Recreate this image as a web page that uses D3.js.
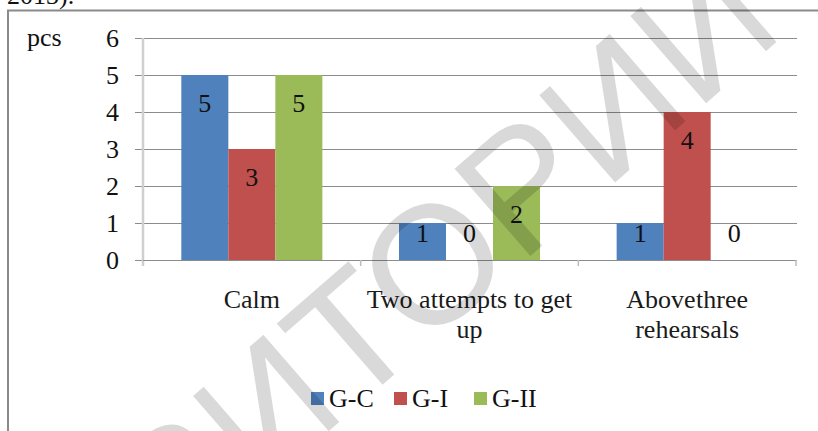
<!DOCTYPE html>
<html>
<head>
<meta charset="utf-8">
<script src="https://cdn.jsdelivr.net/npm/d3@7"></script>
<style>
  html, body { margin: 0; padding: 0; background: #fff; }
  svg { display: block; }
</style>
</head>
<body>
<svg id="chart" width="818" height="431"></svg>
<script>
// Categories (two-line labels split by "|")
const categories = ["Calm", "Two attempts to get|up", "Above three|rehearsals"];
const seriesNames = ["G-C", "G-I", "G-II"];
const seriesColors = ["#4F81BD", "#C0504D", "#9BBB59"];
// Values per series, in category order
const valuesGC  = [5, 1, 1];
const valuesGI  = [3, 0, 4];
const valuesGII = [5, 2, 0];
const yTicks = [0, 1, 2, 3, 4, 5, 6];
const yUnit = "pcs";
const headText = "2013).";
const watermark = "РЕПОЗИТОРИЙ";

const seriesValues = [valuesGC, valuesGI, valuesGII];
const FS = 26;
const SERIF = "font-family: 'Liberation Serif', 'DejaVu Serif', serif";
const SANS = "font-family: 'Liberation Sans', 'DejaVu Sans', sans-serif";

const svg = d3.select("#chart");

// Preceding line of the document, mostly cut off at the top
svg.append("text")
  .attr("style", SERIF)
  .attr("x", 7).attr("y", 4)
  .attr("font-size", FS)
  .attr("fill", "#111")
  .text(headText);

// Chart frame
svg.append("rect")
  .attr("x", 8).attr("y", 10.5)
  .attr("width", 840).attr("height", 460)
  .attr("fill", "none")
  .attr("stroke", "#8a8a8a")
  .attr("stroke-width", 2);

const plot = { left: 143, right: 796, top: 38, bottom: 260 };

const y = d3.scaleLinear().domain([0, 6]).range([plot.bottom, plot.top]);
const x0 = d3.scaleBand().domain(categories).range([plot.left, plot.right]).padding(0);
const x1 = d3.scaleBand().domain(seriesNames).range([0, x0.bandwidth()])
  .paddingInner(0).paddingOuter(0.815);

// Gridlines with short ticks to the left of the axis
svg.append("g").selectAll("line").data(yTicks).join("line")
  .attr("x1", plot.left - 8).attr("x2", plot.right + 1)
  .attr("y1", d => Math.round(y(d)) + 0.5)
  .attr("y2", d => Math.round(y(d)) + 0.5)
  .attr("stroke", "#8c8c8c")
  .attr("stroke-width", 1.2);

// Y tick labels
svg.append("g").selectAll("text").data(yTicks).join("text")
  .attr("style", SERIF)
  .attr("x", 119)
  .attr("y", d => y(d))
  .attr("dy", "0.34em")
  .attr("text-anchor", "end")
  .attr("font-size", FS)
  .attr("fill", "#111")
  .text(d => d);

svg.append("text")
  .attr("style", SERIF)
  .attr("x", 27).attr("y", 46)
  .attr("font-size", FS)
  .attr("fill", "#111")
  .text(yUnit);

// Vertical axis line
svg.append("line")
  .attr("x1", plot.left).attr("x2", plot.left)
  .attr("y1", plot.top).attr("y2", plot.bottom + 6)
  .attr("stroke", "#cfcfcf")
  .attr("stroke-width", 2.5);

// Bars
const groups = svg.append("g").selectAll("g").data(categories).join("g")
  .attr("transform", d => `translate(${x0(d)},0)`);

const cells = (c, ci) => seriesNames.map((s, si) => ({ s, si, v: seriesValues[si][ci] }));

groups.selectAll("rect").data(cells).join("rect")
  .attr("x", d => x1(d.s))
  .attr("width", x1.bandwidth())
  .attr("y", d => y(d.v))
  .attr("height", d => y(0) - y(d.v))
  .attr("fill", d => seriesColors[d.si]);

// Value labels inside the bar ends
groups.selectAll("text.val").data(cells).join("text")
  .attr("class", "val")
  .attr("style", SERIF)
  .attr("x", d => x1(d.s) + x1.bandwidth() / 2)
  .attr("y", d => Math.min(y(d.v) + 37, y(0) - 18))
  .attr("text-anchor", "middle")
  .attr("font-size", FS)
  .attr("fill", "#111")
  .text(d => d.v);

// Horizontal axis line and category ticks
svg.append("line")
  .attr("x1", plot.left).attr("x2", plot.right + 1)
  .attr("y1", plot.bottom + 0.5).attr("y2", plot.bottom + 0.5)
  .attr("stroke", "#8c8c8c")
  .attr("stroke-width", 1.2);

const boundaries = categories.map(c => x0(c) + x0.bandwidth());
svg.append("g").selectAll("line").data(boundaries).join("line")
  .attr("x1", d => d).attr("x2", d => d)
  .attr("y1", plot.bottom).attr("y2", plot.bottom + 6)
  .attr("stroke", "#bdbdbd")
  .attr("stroke-width", 1.5);

// Category labels
const catLabels = svg.append("g").selectAll("text").data(categories).join("text")
  .attr("style", SERIF)
  .attr("x", d => x0(d) + x0.bandwidth() / 2)
  .attr("y", 308)
  .attr("text-anchor", "middle")
  .attr("font-size", FS)
  .attr("fill", "#1a1a1a")
  .attr("word-spacing", d => d.startsWith("Above") ? -6 : 0);
catLabels.selectAll("tspan").data(d => d.split("|")).join("tspan")
  .attr("x", function () { return d3.select(this.parentNode).attr("x"); })
  .attr("dy", (d, i) => i === 0 ? 0 : 30)
  .text(d => d);

// Legend
const legendX = [311, 394, 474];
const legend = svg.append("g").selectAll("g").data(seriesNames).join("g")
  .attr("transform", (d, i) => `translate(${legendX[i]},392)`);
legend.append("rect")
  .attr("width", 13).attr("height", 13)
  .attr("fill", (d, i) => seriesColors[i]);
legend.append("text")
  .attr("style", SERIF)
  .attr("x", 18).attr("y", 15)
  .attr("font-size", FS)
  .attr("fill", "#111")
  .text(d => d);

// Diagonal watermark
svg.append("text")
  .attr("style", SANS)
  .attr("transform", "translate(305,452) rotate(-41)")
  .attr("text-anchor", "middle")
  .attr("font-size", 168)
  .attr("fill", "#000")
  .attr("fill-opacity", 0.15)
  .text(watermark);
</script>
</body>
</html>
